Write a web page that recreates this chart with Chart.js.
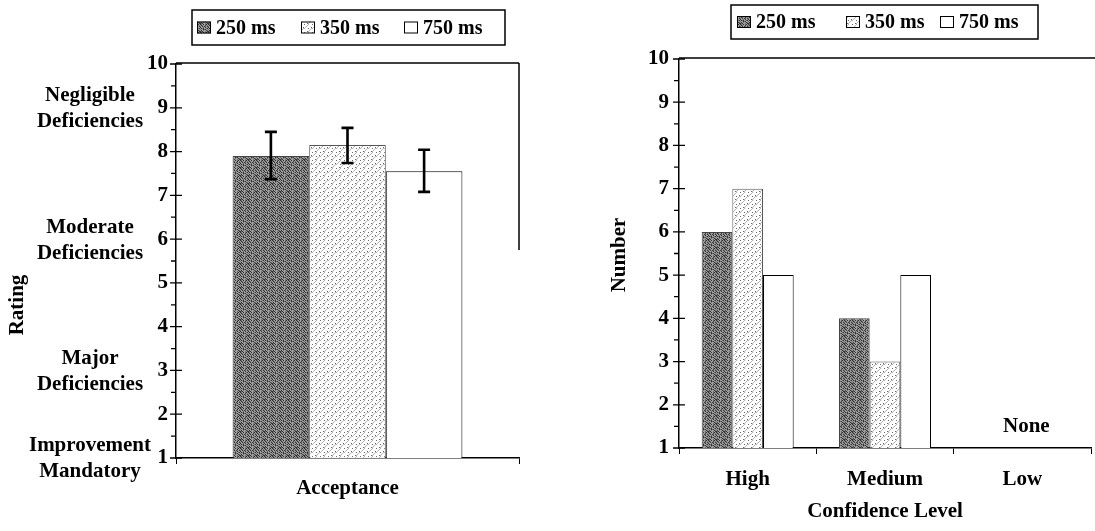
<!DOCTYPE html>
<html>
<head>
<meta charset="utf-8">
<script src="https://cdn.jsdelivr.net/npm/chart.js@4/dist/chart.umd.min.js"></script>
<style>
  html, body { margin: 0; padding: 0; background: #fff; }
  #wrap { position: relative; width: 1095px; height: 531px; overflow: hidden; }
  #left { position: absolute; left: 0; top: 0; }
  #right { position: absolute; left: 540px; top: 0; }
</style>
</head>
<body>
<div id="wrap">
  <canvas id="left" width="540" height="531"></canvas>
  <canvas id="right" width="555" height="531"></canvas>
</div>
<script>
// ---------- DATA ----------
const seriesNames = ['250 ms', '350 ms', '750 ms'];

const acceptanceCategories = ['Acceptance'];
const acceptance250 = [7.9];
const acceptance350 = [8.15];
const acceptance750 = [7.55];
const acceptanceErrLow  = [7.37, 7.74, 7.08];
const acceptanceErrHigh = [8.45, 8.54, 8.04];

const ratingTicks = [1, 2, 3, 4, 5, 6, 7, 8, 9, 10];
const ratingLevelValues = [9, 6, 3, 1];
const ratingLevelLabels = [
  ['Negligible', 'Deficiencies'],
  ['Moderate', 'Deficiencies'],
  ['Major', 'Deficiencies'],
  ['Improvement', 'Mandatory']
];

const confidenceCategories = ['High', 'Medium', 'Low'];
const confidence250 = [6, 4, null];
const confidence350 = [7, 3, null];
const confidence750 = [5, 5, null];
const confidenceNoneCategory = 'Low';
const confidenceNoneText = 'None';

// ---------- STYLE ----------
const FONT = "'Liberation Serif', 'Times New Roman', serif";
const FS = 21;
Chart.defaults.font.family = FONT;
Chart.defaults.font.weight = 'bold';
Chart.defaults.font.size = FS;
Chart.defaults.color = '#000';

function tile(rows, map) {
  const c = document.createElement('canvas');
  c.width = rows[0].length; c.height = rows.length;
  const g = c.getContext('2d');
  for (let y = 0; y < rows.length; y++) {
    for (let x = 0; x < rows[y].length; x++) {
      g.fillStyle = map[rows[y][x]];
      g.fillRect(x, y, 1, 1);
    }
  }
  return g.createPattern(c, 'repeat');
}
const darkPattern = tile([
  '#+.#.+#.',
  '.#+..#.+',
  '+.#.#+.#',
  '#..+.#..',
  '.#+#..+#',
  '+..#+#..',
  '.#.+..#+',
  '#+#..+.#'
], {'#': '#333333', '+': '#6e6e6e', '.': '#a0a0a0'});
const lightPattern = tile([
  '#...+...',
  '...+....',
  '..+.....',
  '.+.....#',
  '+...#..+',
  '......+.',
  '.....+..',
  '...#+...'
], {'#': '#6a6a6a', '+': '#b4b4b4', '.': '#ffffff'});
const seriesFills = [darkPattern, lightPattern, '#ffffff'];
const seriesBorders = ['#444', '#555', '#000'];

function makeDatasets(arrs) {
  return arrs.map((d, i) => ({
    label: seriesNames[i],
    data: d,
    backgroundColor: seriesFills[i],
    borderColor: seriesBorders[i],
    borderWidth: 1,
    categoryPercentage: 0.67,
    barPercentage: 1.0
  }));
}

// legend drawn inside a framed box
function legendPlugin(box) {
  return {
    id: 'boxLegend',
    afterDraw(chart) {
      const ctx = chart.ctx;
      ctx.save();
      ctx.fillStyle = '#fff';
      ctx.fillRect(box.x, box.y, box.w, box.h);
      ctx.strokeStyle = '#000';
      ctx.lineWidth = 1.5;
      ctx.strokeRect(box.x, box.y, box.w, box.h);
      ctx.font = 'bold 20px ' + FONT;
      ctx.textBaseline = 'middle';
      ctx.textAlign = 'left';
      const cy = box.y + box.h / 2;
      seriesNames.forEach((name, i) => {
        const sx = box.items[i];
        ctx.fillStyle = seriesFills[i];
        ctx.fillRect(sx, cy - 6, 14, 12);
        ctx.strokeStyle = '#000';
        ctx.lineWidth = 1;
        ctx.strokeRect(sx + 0.5, cy - 5.5, 13, 11);
        ctx.fillStyle = '#000';
        ctx.fillText(name, sx + 19, cy + 1);
      });
      ctx.restore();
    }
  };
}

function yTickPlugin(opts) {
  return {
    id: 'yTicksFrame',
    afterDraw(chart) {
      const ctx = chart.ctx, a = chart.chartArea, ys = chart.scales.y;
      ctx.save();
      ctx.strokeStyle = '#000';
      ctx.lineWidth = 1.3;
      ctx.beginPath();
      ratingTicks.forEach((v, i) => {
        const py = ys.getPixelForValue(v);
        ctx.moveTo(a.left - 6, py); ctx.lineTo(a.left + 6, py);
        if (i < ratingTicks.length - 1) {
          const my = ys.getPixelForValue((v + ratingTicks[i + 1]) / 2);
          ctx.moveTo(a.left - 5, my); ctx.lineTo(a.left, my);
        }
      });
      ctx.stroke();
      // top frame
      ctx.lineWidth = 1.5;
      ctx.beginPath();
      ctx.moveTo(a.left, a.top - 1); ctx.lineTo(opts.topRight, a.top - 1);
      if (opts.rightBorderTo) {
        ctx.moveTo(a.right, a.top - 1); ctx.lineTo(a.right, opts.rightBorderTo);
      }
      ctx.stroke();
      ctx.restore();
    }
  };
}

// ---------- LEFT CHART ----------
const errorBarPlugin = {
  id: 'errorBars',
  afterDatasetsDraw(chart) {
    const ctx = chart.ctx, ys = chart.scales.y;
    ctx.save();
    ctx.strokeStyle = '#000';
    ctx.lineWidth = 2.6;
    for (let i = 0; i < seriesNames.length; i++) {
      const bar = chart.getDatasetMeta(i).data[0];
      const x = bar.x;
      const yl = ys.getPixelForValue(acceptanceErrLow[i]);
      const yh = ys.getPixelForValue(acceptanceErrHigh[i]);
      ctx.beginPath();
      ctx.moveTo(x, yl); ctx.lineTo(x, yh);
      ctx.moveTo(x - 6, yl); ctx.lineTo(x + 6, yl);
      ctx.moveTo(x - 6, yh); ctx.lineTo(x + 6, yh);
      ctx.stroke();
    }
    ctx.restore();
  }
};

const leftLabels = {
  id: 'leftLabels',
  afterDraw(chart) {
    const ctx = chart.ctx, ys = chart.scales.y;
    ctx.save();
    ctx.fillStyle = '#000';
    ctx.font = 'bold ' + FS + 'px ' + FONT;
    ctx.textAlign = 'center';
    ctx.textBaseline = 'middle';
    ratingLevelValues.forEach((v, i) => {
      const py = ys.getPixelForValue(v);
      const lines = ratingLevelLabels[i];
      ctx.fillText(lines[0], 90, py - 12);
      ctx.fillText(lines[1], 90, py + 14);
    });
    ctx.translate(18, 305);
    ctx.rotate(-Math.PI / 2);
    ctx.fillText('Rating', 0, 0);
    ctx.restore();
  }
};

new Chart(document.getElementById('left'), {
  type: 'bar',
  data: {
    labels: acceptanceCategories,
    datasets: makeDatasets([acceptance250, acceptance350, acceptance750])
  },
  options: {
    responsive: false,
    animation: false,
    layout: { padding: { top: 64, right: 21, left: 0, bottom: 0 } },
    plugins: { legend: { display: false }, tooltip: { enabled: false } },
    scales: {
      x: {
        grid: { display: true, drawOnChartArea: false, drawTicks: true, tickLength: 6, color: '#000' },
        border: { display: true, color: '#000', width: 1.5 },
        ticks: { padding: 12, font: { size: FS, weight: 'bold' }, color: '#000' },
        afterFit(s) { s.height = 73; }
      },
      y: {
        min: 1, max: 10,
        ticks: { stepSize: 1, padding: 8, font: { size: FS, weight: 'bold' }, color: '#000' },
        grid: { display: true, drawOnChartArea: false, drawTicks: false },
        border: { display: true, color: '#000', width: 1.5 },
        afterFit(s) { s.width = 176; }
      }
    }
  },
  plugins: [errorBarPlugin, leftLabels, yTickPlugin({ topRight: 519, rightBorderTo: 250 }),
    legendPlugin({ x: 192, y: 10, w: 313, h: 35, items: [197, 301, 404] })]
});

// ---------- RIGHT CHART ----------
const rightLabels = {
  id: 'rightLabels',
  afterDraw(chart) {
    const ctx = chart.ctx, ys = chart.scales.y, xs = chart.scales.x, a = chart.chartArea;
    ctx.save();
    ctx.fillStyle = '#000';
    ctx.font = 'bold ' + FS + 'px ' + FONT;
    ctx.textAlign = 'center';
    ctx.textBaseline = 'middle';
    const nx = xs.getPixelForValue(confidenceCategories.indexOf(confidenceNoneCategory));
    ctx.fillText(confidenceNoneText, nx + 4, ys.getPixelForValue(1) - 21);
    ctx.fillText('Confidence Level', (a.left + a.right) / 2, 512);
    ctx.translate(80, 255);
    ctx.rotate(-Math.PI / 2);
    ctx.fillText('Number', 0, 0);
    ctx.restore();
  }
};

new Chart(document.getElementById('right'), {
  type: 'bar',
  data: {
    labels: confidenceCategories,
    datasets: makeDatasets([confidence250, confidence350, confidence750])
  },
  options: {
    responsive: false,
    animation: false,
    layout: { padding: { top: 59, right: 4, left: 0, bottom: 0 } },
    plugins: { legend: { display: false }, tooltip: { enabled: false } },
    scales: {
      x: {
        grid: { display: true, drawOnChartArea: false, drawTicks: true, tickLength: 6, color: '#000' },
        border: { display: true, color: '#000', width: 1.5 },
        ticks: { padding: 13, font: { size: FS, weight: 'bold' }, color: '#000' },
        afterFit(s) { s.height = 83; }
      },
      y: {
        min: 1, max: 10,
        ticks: { stepSize: 1, padding: 10, font: { size: FS, weight: 'bold' }, color: '#000' },
        grid: { display: true, drawOnChartArea: false, drawTicks: false },
        border: { display: true, color: '#000', width: 1.5 },
        afterFit(s) { s.width = 139; }
      }
    }
  },
  plugins: [rightLabels, yTickPlugin({ topRight: 555, rightBorderTo: 0 }),
    legendPlugin({ x: 191, y: 5, w: 307, h: 34, items: [197, 306, 400] })]
});
</script>
</body>
</html>
